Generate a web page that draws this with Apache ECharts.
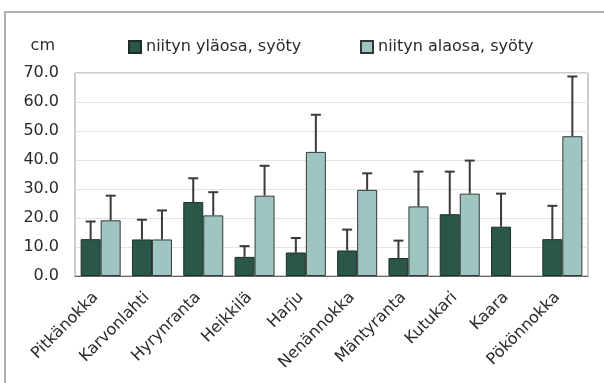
<!DOCTYPE html>
<html>
<head>
<meta charset="utf-8">
<script src="https://cdn.jsdelivr.net/npm/echarts@6/dist/echarts.min.js"></script>
<style>
  html, body { margin: 0; padding: 0; background: #fff; }
  #chart { width: 604px; height: 383px; }
</style>
</head>
<body>
<div id="chart"></div>
<script>
// Sites along the shore
const categories = ['Pitkänokka', 'Karvonlahti', 'Hyrynranta', 'Heikkilä', 'Harju',
  'Nenännokka', 'Mäntyranta', 'Kutukari', 'Kaara', 'Pökönnokka'];

const seriesNames = ['niityn yläosa, syöty', 'niityn alaosa, syöty'];

// Mean height (cm) and upward error (cm)
const upperMean = [12.7, 12.6, 25.5, 6.6, 8.1, 8.8, 6.2, 21.3, 17.0, 12.7];
const upperErr  = [6.1, 6.8, 8.2, 3.7, 5.0, 7.2, 6.0, 14.7, 11.4, 11.5];
const lowerMean = [19.2, 12.6, 20.9, 27.7, 42.8, 29.7, 24.0, 28.4, null, 48.2];
const lowerErr  = [8.5, 10.0, 8.0, 10.3, 12.8, 5.7, 12.0, 11.4, null, 20.6];

const yTicks = { min: 0, max: 70, interval: 10 };

const darkColor = '#2a5749';
const lightColor = '#a0c5c1';
const font = 'DejaVu Sans, sans-serif';
const textColor = '#2a2a2a';
const fontSize = 16;
const catGap = 0.22;

function errorSeries(means, errs, idx) {
  const data = means.map((m, i) => (m == null ? null : [i, m, m + errs[i]]));
  return {
    type: 'custom',
    silent: true,
    z: 5,
    data: data.filter(d => d),
    encode: { x: 0, y: [1, 2] },
    renderItem: function (params, api) {
      const ci = api.value(0);
      const base = api.coord([ci, api.value(1)]);
      const top = api.coord([ci, api.value(2)]);
      const band = api.size([1, 0])[0];
      const bw = band * (1 - catGap) / 2;
      const x = base[0] + (idx === 0 ? -bw / 2 : bw / 2);
      const cap = 5;
      const style = { stroke: '#3a3a3a', lineWidth: 2, fill: null };
      return {
        type: 'group',
        children: [
          { type: 'line', shape: { x1: x, y1: base[1], x2: x, y2: top[1] }, style: style },
          { type: 'line', shape: { x1: x - cap, y1: top[1], x2: x + cap, y2: top[1] }, style: style }
        ]
      };
    }
  };
}

const legendBase = {
  top: 34,
  itemWidth: 12,
  itemHeight: 12,
  itemGap: 5,
  icon: 'rect',
  textStyle: { fontSize: fontSize, color: textColor, fontFamily: font }
};

const chart = echarts.init(document.getElementById('chart'), null, { renderer: 'canvas' });
chart.setOption({
  backgroundColor: '#fff',
  animation: false,
  textStyle: { fontFamily: font },
  graphic: [{
    type: 'rect',
    shape: { x: 5, y: 12, width: 700, height: 500 },
    style: { fill: 'none', stroke: '#b0b0b0', lineWidth: 2 },
    z: -1
  }],
  legend: [
    Object.assign({ left: 123, data: [seriesNames[0]] }, legendBase),
    Object.assign({ left: 355, data: [seriesNames[1]] }, legendBase)
  ],
  grid: {
    left: 75, right: 16, top: 73, bottom: 107,
    show: true, borderColor: '#9a9a9a', borderWidth: 1
  },
  xAxis: {
    type: 'category',
    data: categories,
    axisLine: { show: true, lineStyle: { color: '#666' } },
    axisTick: { show: false },
    axisLabel: {
      interval: 0, rotate: 45, fontSize: fontSize, color: textColor, fontFamily: font,
      margin: 14, padding: [0, 7, 0, 0]
    }
  },
  yAxis: {
    type: 'value',
    min: yTicks.min, max: yTicks.max, interval: yTicks.interval,
    name: 'cm',
    nameLocation: 'end',
    nameGap: 19,
    nameTextStyle: { fontSize: fontSize, color: textColor, align: 'right', padding: [0, 20, 0, 0], fontFamily: font },
    axisLine: { show: false },
    axisTick: { show: false },
    axisLabel: {
      fontSize: fontSize, color: textColor, margin: 16, fontFamily: font,
      formatter: v => v.toFixed(1)
    },
    splitLine: { lineStyle: { color: '#e4e4e4', width: 1 } }
  },
  series: [
    {
      name: seriesNames[0], type: 'bar', data: upperMean,
      barGap: '0%', barCategoryGap: (catGap * 100) + '%',
      itemStyle: { color: darkColor, borderColor: '#1e2e2a', borderWidth: 1 }
    },
    {
      name: seriesNames[1], type: 'bar', data: lowerMean,
      barGap: '0%', barCategoryGap: (catGap * 100) + '%',
      itemStyle: { color: lightColor, borderColor: '#2e3a38', borderWidth: 1 }
    },
    errorSeries(upperMean, upperErr, 0),
    errorSeries(lowerMean, lowerErr, 1)
  ]
});
</script>
</body>
</html>
